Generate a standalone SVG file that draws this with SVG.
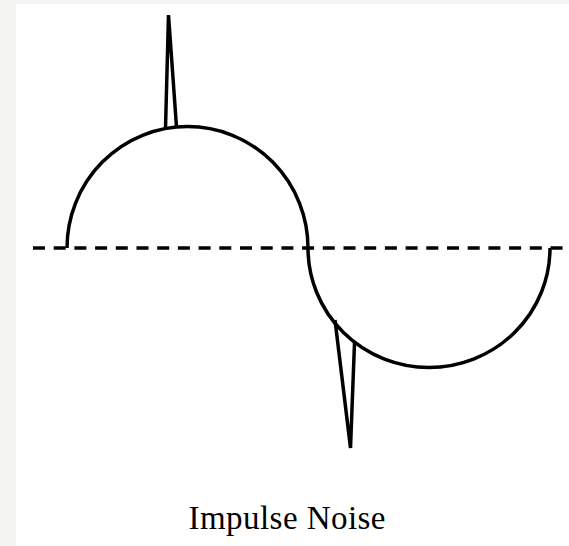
<svg xmlns="http://www.w3.org/2000/svg" width="569" height="546" viewBox="0 0 569 546">
  <style>
    .curve { fill: none; stroke: #000; stroke-width: 3.5; stroke-linejoin: miter; }
    .axis { fill: none; stroke: #000; stroke-width: 3.5; stroke-dasharray: 12 8.7; }
    .label { font-family: "Liberation Serif", "Times New Roman", serif; font-size: 33px; fill: #000; }
  </style>
  <rect x="0" y="0" width="569" height="546" fill="#f4f4f1"/>
  <rect x="16" y="4" width="553" height="542" fill="#ffffff"/>
  <g id="axis">
    <line class="axis" x1="33" y1="248" x2="569" y2="248"/>
  </g>
  <g id="signal">
    <path class="curve" d="M67,248 A120.5,121.5 0 0 1 308,248 A121,119.5 0 0 0 550,248"/>
  </g>
  <g id="impulses">
    <path class="curve" d="M165.5,128 L168.5,15 L176.5,127"/>
    <path class="curve" d="M335,320 L350.5,448 L354.5,343"/>
  </g>
  <g id="caption">
    <text class="label" x="287" y="529" text-anchor="middle" textLength="197" lengthAdjust="spacing">Impulse Noise</text>
  </g>
</svg>
